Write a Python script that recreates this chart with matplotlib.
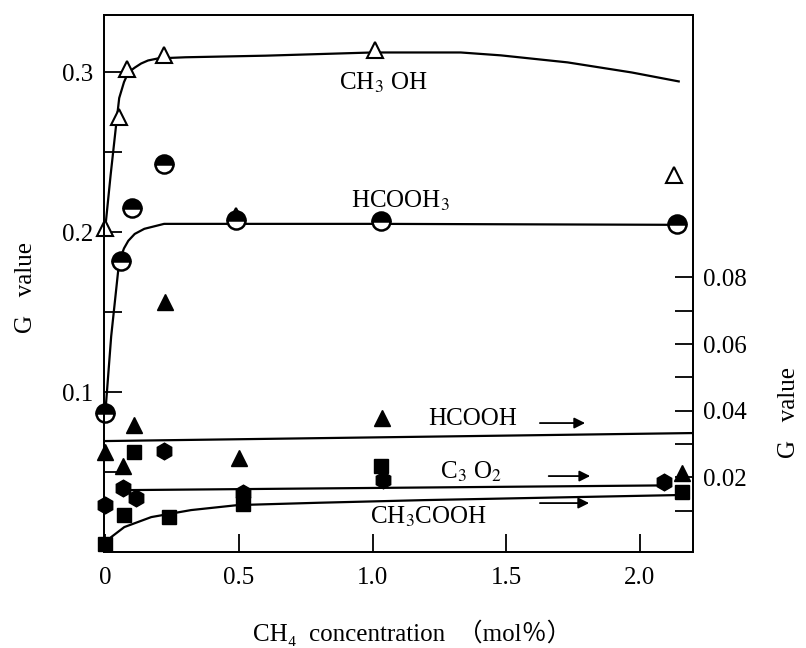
import numpy as np
import matplotlib
matplotlib.use("Agg")
import matplotlib.pyplot as plt
from matplotlib.ticker import MultipleLocator, FixedLocator

plt.rcParams['font.family'] = ['Liberation Serif', 'Noto Sans CJK JP']
plt.rcParams['mathtext.fontset'] = 'stix'

# measured points, left axis (G value)
x_ch3oh = [0.0, 0.05, 0.08, 0.22, 0.49, 1.01, 2.13]
g_ch3oh = [0.203, 0.272, 0.302, 0.311, 0.210, 0.314, 0.236]
x_hcooch3 = [0.0, 0.06, 0.10, 0.22, 0.49, 1.03, 2.14]
g_hcooch3 = [0.087, 0.182, 0.215, 0.243, 0.208, 0.207, 0.205]

# measured points, right axis (G value)
x_hcooh = [0.0, 0.067, 0.108, 0.224, 0.50, 1.037, 2.157]
g_hcooh = [0.0276, 0.0234, 0.0357, 0.0726, 0.0258, 0.0378, 0.0213]
x_c3o2 = [0.0, 0.067, 0.116, 0.22, 0.515, 1.04, 2.09]
g_c3o2 = [0.0117, 0.0168, 0.0138, 0.028, 0.0153, 0.0192, 0.0186]
x_ch3cooh = [0.0, 0.071, 0.108, 0.239, 0.515, 1.03, 2.157]
g_ch3cooh = [0.0, 0.0087, 0.0276, 0.0081, 0.012, 0.0234, 0.0156]

# hand-drawn trend curves
cx_ch3oh = [0, 0.02, 0.041, 0.052, 0.07, 0.086, 0.11, 0.134, 0.16, 0.198, 0.3, 0.6, 1.0, 1.33, 1.48, 1.73, 1.97, 2.146]
cy_ch3oh = [0.203, 0.236, 0.268, 0.284, 0.294, 0.300, 0.303, 0.3056, 0.3075, 0.3088, 0.3095, 0.3105, 0.3125, 0.3125, 0.3107, 0.3063, 0.300, 0.2944]
cx_hcooch3 = [0, 0.022, 0.052, 0.07, 0.086, 0.11, 0.146, 0.22, 1.03, 2.14]
cy_hcooch3 = [0.087, 0.135, 0.182, 0.190, 0.1947, 0.199, 0.2022, 0.2053, 0.2053, 0.2047]
cx_hcooh = [0, 2.2]
cy_hcooh = [0.0309, 0.0333]
cx_c3o2 = [0.097, 2.09]
cy_c3o2 = [0.0162, 0.0176]
cx_ch3cooh = [0.0, 0.022, 0.071, 0.172, 0.321, 0.496, 0.8, 1.2, 2.14]
cy_ch3cooh = [0.0, 0.0021, 0.0051, 0.0081, 0.0102, 0.0117, 0.0124, 0.0132, 0.0147]

fig = plt.figure(figsize=(8.06, 6.48), dpi=100)
ax = fig.add_axes([0.129, 0.148, 0.731, 0.829])
ax2 = ax.twinx()

lw = 1.6
ax.plot(cx_ch3oh, cy_ch3oh, c="k", lw=lw)
ax.plot(cx_hcooch3, cy_hcooch3, c="k", lw=lw)
ax.plot(x_ch3oh, g_ch3oh, ls="none", marker="^", ms=12, mfc="white", mec="k", mew=1.5, clip_on=False)
ax.plot(x_hcooch3, g_hcooch3, ls="none", marker="o", ms=13, fillstyle="top", mfc="k",
        markerfacecoloralt="white", mec="k", mew=1.8, clip_on=False)

ax2.plot(cx_hcooh, cy_hcooh, c="k", lw=lw)
ax2.plot(cx_c3o2, cy_c3o2, c="k", lw=lw)
ax2.plot(cx_ch3cooh, cy_ch3cooh, c="k", lw=lw)
ax2.plot(x_hcooh, g_hcooh, ls="none", marker="^", ms=12, c="k", clip_on=False)
ax2.plot(x_c3o2, g_c3o2, ls="none", marker="h", ms=12, c="k", clip_on=False)
ax2.plot(x_ch3cooh, g_ch3cooh, ls="none", marker="s", ms=10, c="k", clip_on=False)

ax.set_xlim(-0.005, 2.2)
ax.set_ylim(0, 0.336)
ax2.set_ylim(-0.0024, 0.1587)

ax.xaxis.set_major_locator(FixedLocator([0, 0.5, 1.0, 1.5, 2.0]))
ax.set_xticklabels(["0", "0.5", "1.0", "1.5", "2.0"])
ax.yaxis.set_major_locator(FixedLocator([0.1, 0.2, 0.3]))
ax.yaxis.set_minor_locator(FixedLocator([0.05, 0.15, 0.25]))
ax2.yaxis.set_major_locator(FixedLocator([0.02, 0.04, 0.06, 0.08]))
ax2.yaxis.set_minor_locator(FixedLocator([0.01, 0.03, 0.05, 0.07]))

fs = 18
for a in (ax, ax2):
    a.tick_params(which="both", direction="in", length=13, width=1.3, labelsize=fs, pad=8)
    for s in a.spines.values():
        s.set_linewidth(1.3)
ax.tick_params(axis="y", which="both", right=False)
ax.tick_params(axis="x", pad=11)
ax2.tick_params(axis="y", pad=7)

ax.set_ylabel("G   value", fontsize=fs)
ax.yaxis.set_label_coords(-0.113, 0.493)
ax2.set_ylabel("G   value", fontsize=fs, rotation=90)
ax2.yaxis.set_label_coords(1.144, 0.26)
ax.set_xlabel("CH\u2084  concentration  （mol％）", fontsize=fs)
ax.xaxis.set_label_coords(0.523, -0.125)

ax.text(0.873, 0.2937, "CH$_3$ OH", fontsize=fs, va="center")
ax.text(0.918, 0.2197, "HCOOH$_3$", fontsize=fs, va="center")
ax2.text(1.209, 0.0375, "HCOOH", fontsize=fs, va="center")
ax2.text(1.254, 0.0216, "C$_3$ O$_2$", fontsize=fs, va="center")
ax2.text(0.989, 0.0081, "CH$_3$COOH", fontsize=fs, va="center")

arrow = dict(arrowstyle="-|>", lw=1.3, color="k", mutation_scale=16)
ax2.annotate("", xy=(1.806, 0.0363), xytext=(1.616, 0.0363), arrowprops=arrow)
ax2.annotate("", xy=(1.825, 0.0204), xytext=(1.649, 0.0204), arrowprops=arrow)
ax2.annotate("", xy=(1.821, 0.0123), xytext=(1.616, 0.0123), arrowprops=arrow)

fig.savefig("out.png", dpi=100)
